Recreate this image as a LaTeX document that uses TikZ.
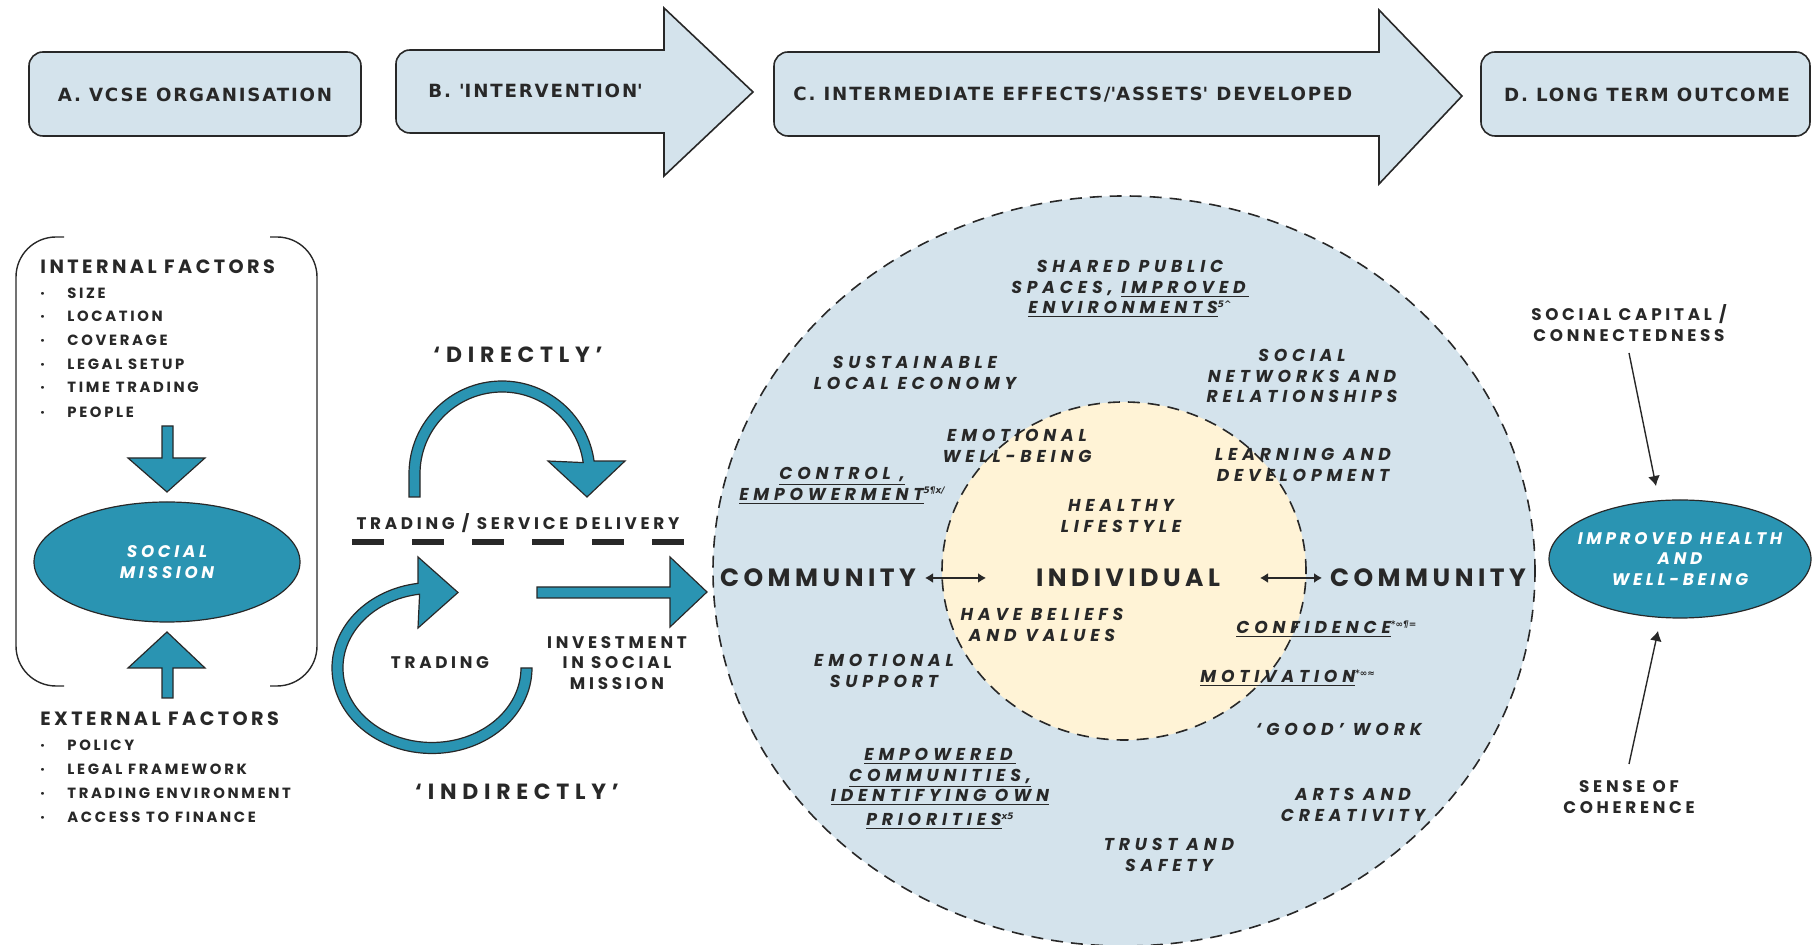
\documentclass[tikz,border=0pt]{standalone}
\usepackage{fontspec}
\usetikzlibrary{shapes.geometric,arrows.meta}
\newfontfamily\hdrf{DejaVu Sans}[LetterSpace=10]
\newfontfamily\popf{Poppins}[LetterSpace=18]
\newfontfamily\popm{Poppins}[LetterSpace=22]
\newfontfamily\popb{Poppins}[LetterSpace=26]
\newfontfamily\popw{Poppins}[LetterSpace=28]
\newfontfamily\djv{DejaVu Sans}
\definecolor{lblue}{RGB}{212,227,236}
\definecolor{cream}{RGB}{255,243,214}
\definecolor{tealc}{RGB}{42,148,178}
\definecolor{dk}{RGB}{40,40,40}
\newcommand{\fnm}[1]{\raisebox{3.2pt}{\djv\fontsize{4.5}{5}\selectfont #1}}
\begin{document}
\begin{tikzpicture}[x=0.5pt,y=-0.5pt,
  hdr/.style={draw=dk, line width=0.8pt, fill=lblue},
  hdrtxt/.style={font=\hdrf\bfseries\fontsize{9.1}{10}\selectfont, inner sep=0, text=dk},
  blk/.style={draw=dk, line width=0.6pt, fill=tealc},
  lbl/.style={font=\popf\bfseries\fontsize{9.6}{12}\selectfont, inner sep=0, text=dk},
  blt/.style={font=\popf\bfseries\fontsize{7.4}{9}\selectfont, inner sep=0, text=dk},
  mid/.style={font=\popm\bfseries\fontsize{8.4}{10.2}\selectfont, inner sep=0, text=dk, align=center},
  qt/.style={font=\popb\bfseries\fontsize{11}{13}\selectfont, inner sep=0, text=dk},
  big/.style={font=\popf\bfseries\fontsize{12.5}{15}\selectfont, inner sep=0, text=dk},
  itl/.style={font=\popw\bfseries\itshape\fontsize{8.6}{10.3}\selectfont, align=center, inner sep=0, text=dk},
  wit/.style={font=\popm\bfseries\itshape\fontsize{8.4}{10.4}\selectfont, align=center, inner sep=0, text=white},
  ring/.style={ellipse, draw=dk, line width=0.8pt, dash pattern=on 6pt off 4pt, inner sep=0},
  thin/.style={draw=dk, line width=0.7pt}
]
\useasboundingbox (0,0) rectangle (1812,945);

% ---------- header row ----------
\node[hdr, rounded corners=7pt, minimum width=166pt, minimum height=42pt, inner sep=0] (boxA) at (195,94) {};
\node[hdrtxt] (tA) at (195,95) {A. VCSE ORGANISATION};
\draw[hdr] (530,50) [rounded corners=7pt] -- (396,50) -- (396,133) -- (530,133) [sharp corners] -- (664,133) -- (664,176) -- (753,92) -- (664,8) -- (664,50) -- cycle;
\node[hdrtxt, anchor=west] (tB) at (428,91) {B. \textquotesingle INTERVENTION\textquotesingle};
\draw[hdr] (1000,52) [rounded corners=7pt] -- (774,52) -- (774,136) -- (1000,136) [sharp corners] -- (1379,136) -- (1379,184) -- (1462,96) -- (1379,10) -- (1379,52) -- cycle;
\node[hdrtxt, anchor=west] (tC) at (793,95) {C. INTERMEDIATE EFFECTS/\textquotesingle ASSETS\textquotesingle\ DEVELOPED};
\node[hdr, rounded corners=7pt, minimum width=164.5pt, minimum height=42pt, inner sep=0] (boxD) at (1645.5,94) {};
\node[hdrtxt] (tD) at (1647,95) {D. LONG TERM OUTCOME};

% ---------- left panel ----------
\draw[thin, rounded corners=20pt] (64,237) -- (16,237) -- (16,686) -- (64,686);
\draw[thin, rounded corners=20pt] (270,237) -- (317,237) -- (317,686) -- (270,686);
\node[lbl, anchor=west] (intf) at (40,267) {INTERNAL FACTORS};
\foreach \t/\y [count=\i] in {SIZE/293, LOCATION/316, COVERAGE/340, LEGAL SETUP/364, TIME TRADING/387, PEOPLE/412}
  \node[blt, anchor=west] (ib\i) at (40,\y) {\makebox[13.5pt][l]{·}\t};
\draw[blk] (162,426) -- (173,426) -- (173,458) -- (205,458) -- (167,492) -- (128,458) -- (162,458) -- cycle;
\node[ellipse, blk, minimum width=133pt, minimum height=60pt, inner sep=0] (sm) at (167,562) {};
\node[wit] (smt) at (sm.center) {SOCIAL\\MISSION};
\draw[blk] (162,698) -- (173,698) -- (173,668) -- (205,668) -- (167,632) -- (128,668) -- (162,668) -- cycle;
\node[lbl, anchor=west] (extf) at (40,719) {EXTERNAL FACTORS};
\foreach \t/\y [count=\i] in {POLICY/745, LEGAL FRAMEWORK/769, TRADING ENVIRONMENT/793, ACCESS TO FINANCE/817}
  \node[blt, anchor=west] (eb\i) at (40,\y) {\makebox[13.5pt][l]{·}\t};

% ---------- middle panel ----------
\node[qt] (dir) at (518,355) {‘DIRECTLY’};
\draw[blk] (409,497) -- (409,474) arc[start angle=180, end angle=352, radius=93]
   -- (625,461) -- (587,497) -- (548,461) -- (583.2,462.6)
   arc[start angle=352, end angle=180, radius=82] -- (420,497) -- cycle;
\node[mid] (tsd) at (518,523) {TRADING / SERVICE DELIVERY};
\draw[line width=3pt, dk, dash pattern=on 16pt off 14pt] (352,542) -- (684,542);
\draw[blk] (532,668) arc[start angle=0, end angle=262, x radius=100, y radius=85.5]
   -- (418,557) -- (458,592.5) -- (418,628) -- (419.6,594.2)
   arc[start angle=262, end angle=0, x radius=89, y radius=74.5] -- cycle;
\node[mid] (trd) at (440,663) {TRADING};
\draw[blk] (537,587) -- (670,587) -- (670,557) -- (707,592) -- (670,627) -- (670,598) -- (537,598) -- cycle;
\node[mid] (inv) at (617,663) {INVESTMENT\\IN SOCIAL\\MISSION};
\node[qt] (indir) at (517,792) {‘INDIRECTLY’};

% ---------- circles ----------
\node[ring, fill=lblue, minimum width=411pt, minimum height=375pt] (outer) at (1124,571) {};
\node[ring, fill=cream, minimum width=182pt, minimum height=169pt] (inner) at (1124,571) {};

\node[itl] (spaces) at (1130,289) {SHARED PUBLIC\\SPACES, \underline{IMPROVED\,}\\\underline{ENVIRONMENTS}\fnm{5\^{}}};
\node[itl] (sle) at (915,373) {SUSTAINABLE\\LOCAL ECONOMY};
\node[itl] (snr) at (1302,376) {SOCIAL\\NETWORKS AND\\RELATIONSHIPS};
\node[itl] (ewb) at (1017,446) {EMOTIONAL\\WELL-BEING};
\node[itl] (lad) at (1303,465) {LEARNING AND\\DEVELOPMENT};
\node[itl] (ctrl) at (842,486) {\underline{CONTROL ,}\\\underline{EMPOWERMENT}\fnm{5¶x/}};
\node[itl] (hl) at (1121,516) {HEALTHY\\LIFESTYLE};
\node[big] (comL) at (818,578) {COMMUNITY};
\node[big] (indv) at (1128,578) {INDIVIDUAL};
\node[big] (comR) at (1428,578) {COMMUNITY};
\coordinate (cl1) at (925,578); \coordinate (cl2) at (986,578);
\coordinate (cr1) at (1260,578); \coordinate (cr2) at (1322,578);
\draw[thin, {Latex[length=4pt,width=5pt]}-{Latex[length=4pt,width=5pt]}] (cl1) -- (cl2);
\draw[thin, {Latex[length=4pt,width=5pt]}-{Latex[length=4pt,width=5pt]}] (cr1) -- (cr2);
\node[itl] (hbv) at (1042,625) {HAVE BELIEFS\\AND VALUES};
\node[itl, anchor=west] (conf) at (1236,629) {\underline{CONFIDENCE}\fnm{*∞¶=}};
\node[itl, anchor=west] (motv) at (1200,678) {\underline{MOTIVATION}\fnm{*∞≈}};
\node[itl] (esup) at (884,671) {EMOTIONAL\\SUPPORT};
\node[itl] (gw) at (1339,729) {‘GOOD’ WORK};
\node[itl] (emp) at (940,789) {\underline{EMPOWERED\,}\\\underline{COMMUNITIES,}\\\underline{IDENTIFYING OWN}\\[1.5pt]\underline{PRIORITIES}\fnm{x5}};
\node[itl] (arts) at (1353,805) {ARTS AND\\CREATIVITY};
\node[itl] (trust) at (1169,855) {TRUST AND\\SAFETY};

% ---------- right panel ----------
\node[ellipse, blk, minimum width=131pt, minimum height=59pt, inner sep=0] (ihw) at (1680,559) {};
\node[wit] (ihwt) at (ihw.center) {IMPROVED HEALTH\\AND\\WELL-BEING};
\node[mid] (scap) at (1629,323) {SOCIAL CAPITAL /\\CONNECTEDNESS};
\node[mid] (soc) at (1629,797) {SENSE OF\\COHERENCE};
\coordinate (s1) at (1629,353); \coordinate (s2) at (1656,486);
\coordinate (c1) at (1629,764); \coordinate (c2) at (1658,631);
\draw[thin, -{Latex[length=5pt,width=6pt]}] (s1) -- (s2);
\draw[thin, -{Latex[length=5pt,width=6pt]}] (c1) -- (c2);
\end{tikzpicture}
\end{document}
